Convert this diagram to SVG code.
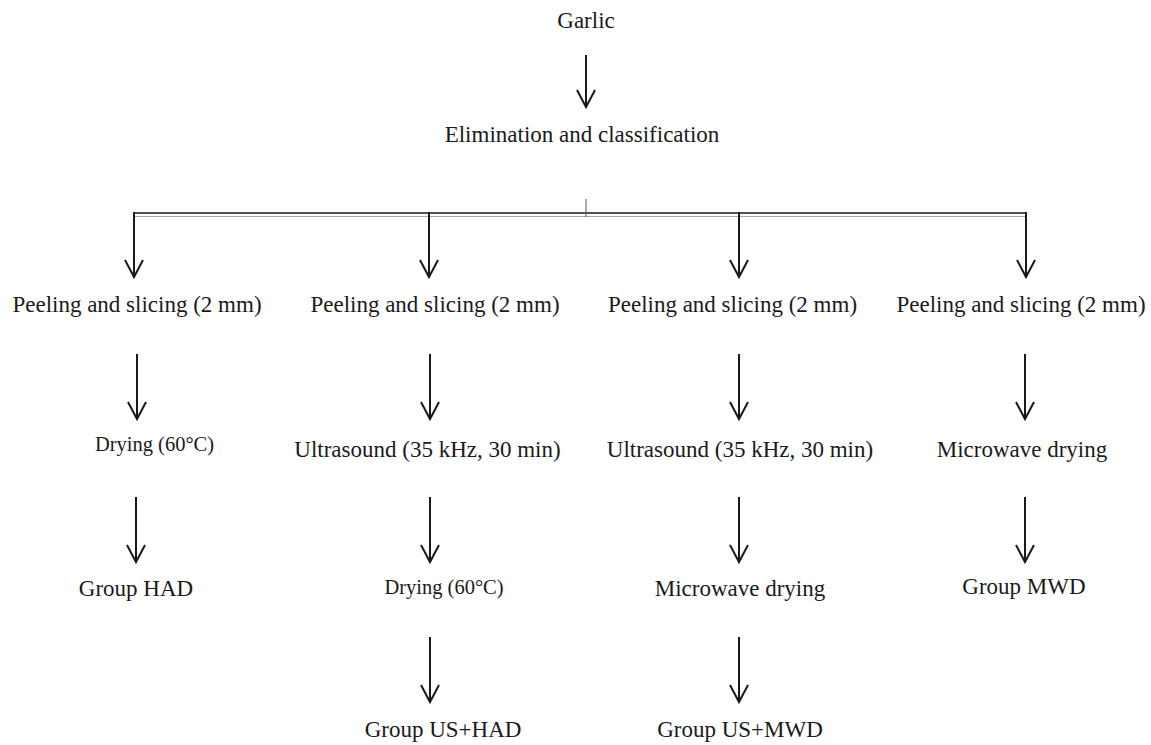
<svg xmlns="http://www.w3.org/2000/svg" width="1151" height="745" viewBox="0 0 1151 745">
<style>
text{font-family:"Liberation Serif","Times New Roman",serif;font-size:23px;fill:#1a1a1a;text-anchor:middle}
.s{font-size:20.5px}
.c line,.c polyline{stroke:#1a1a1a;stroke-width:2;fill:none}
</style>
<defs>
<g id="ah"><polyline points="-9,-17 0,0 9,-17" style="stroke:#1a1a1a;stroke-width:2;fill:none;stroke-linejoin:miter"/></g>
</defs>
<g id="n-garlic"><text x="586" y="28">Garlic</text></g>
<g id="n-elim"><text x="582" y="142">Elimination and classification</text></g>
<g id="n-p1"><text x="137" y="312">Peeling and slicing (2 mm)</text></g>
<g id="n-p2"><text x="435" y="312">Peeling and slicing (2 mm)</text></g>
<g id="n-p3"><text x="732.5" y="312">Peeling and slicing (2 mm)</text></g>
<g id="n-p4"><text x="1021" y="312">Peeling and slicing (2 mm)</text></g>
<g id="n-d1"><text class="s" x="154.5" y="451">Drying (60°C)</text></g>
<g id="n-u2"><text x="427.5" y="457">Ultrasound (35 kHz, 30 min)</text></g>
<g id="n-u3"><text x="740" y="457">Ultrasound (35 kHz, 30 min)</text></g>
<g id="n-m4"><text x="1022" y="457">Microwave drying</text></g>
<g id="n-g1"><text x="136" y="596">Group HAD</text></g>
<g id="n-d2"><text class="s" x="444" y="594">Drying (60°C)</text></g>
<g id="n-m3"><text x="740" y="596">Microwave drying</text></g>
<g id="n-g4"><text x="1024" y="594">Group MWD</text></g>
<g id="n-g2"><text x="443" y="737">Group US+HAD</text></g>
<g id="n-g3"><text x="740" y="737">Group US+MWD</text></g>
<g id="connectors" class="c">
<line x1="586" y1="55" x2="586" y2="107"/><use href="#ah" x="586" y="107"/>
<line x1="133" y1="213" x2="1027" y2="213" style="stroke-width:1.5"/>
<line x1="133" y1="216.5" x2="1027" y2="216.5" style="stroke:#aaa;stroke-width:1"/>
<line x1="586" y1="199" x2="586" y2="217" style="stroke:#555;stroke-width:1"/>
<line x1="134" y1="212" x2="134" y2="277"/><use href="#ah" x="134" y="277"/>
<line x1="429" y1="212" x2="429" y2="277"/><use href="#ah" x="429" y="277"/>
<line x1="739" y1="212" x2="739" y2="277"/><use href="#ah" x="739" y="277"/>
<line x1="1026" y1="212" x2="1026" y2="277"/><use href="#ah" x="1026" y="277"/>
<line x1="137" y1="354" x2="137" y2="419"/><use href="#ah" x="137" y="419"/>
<line x1="430" y1="354" x2="430" y2="419"/><use href="#ah" x="430" y="419"/>
<line x1="739" y1="354" x2="739" y2="419"/><use href="#ah" x="739" y="419"/>
<line x1="1025" y1="354" x2="1025" y2="419"/><use href="#ah" x="1025" y="419"/>
<line x1="136" y1="497" x2="136" y2="562"/><use href="#ah" x="136" y="562"/>
<line x1="430" y1="497" x2="430" y2="562"/><use href="#ah" x="430" y="562"/>
<line x1="739" y1="497" x2="739" y2="562"/><use href="#ah" x="739" y="562"/>
<line x1="1025" y1="497" x2="1025" y2="562"/><use href="#ah" x="1025" y="562"/>
<line x1="430" y1="637" x2="430" y2="702"/><use href="#ah" x="430" y="702"/>
<line x1="739" y1="637" x2="739" y2="702"/><use href="#ah" x="739" y="702"/>
</g>
</svg>
